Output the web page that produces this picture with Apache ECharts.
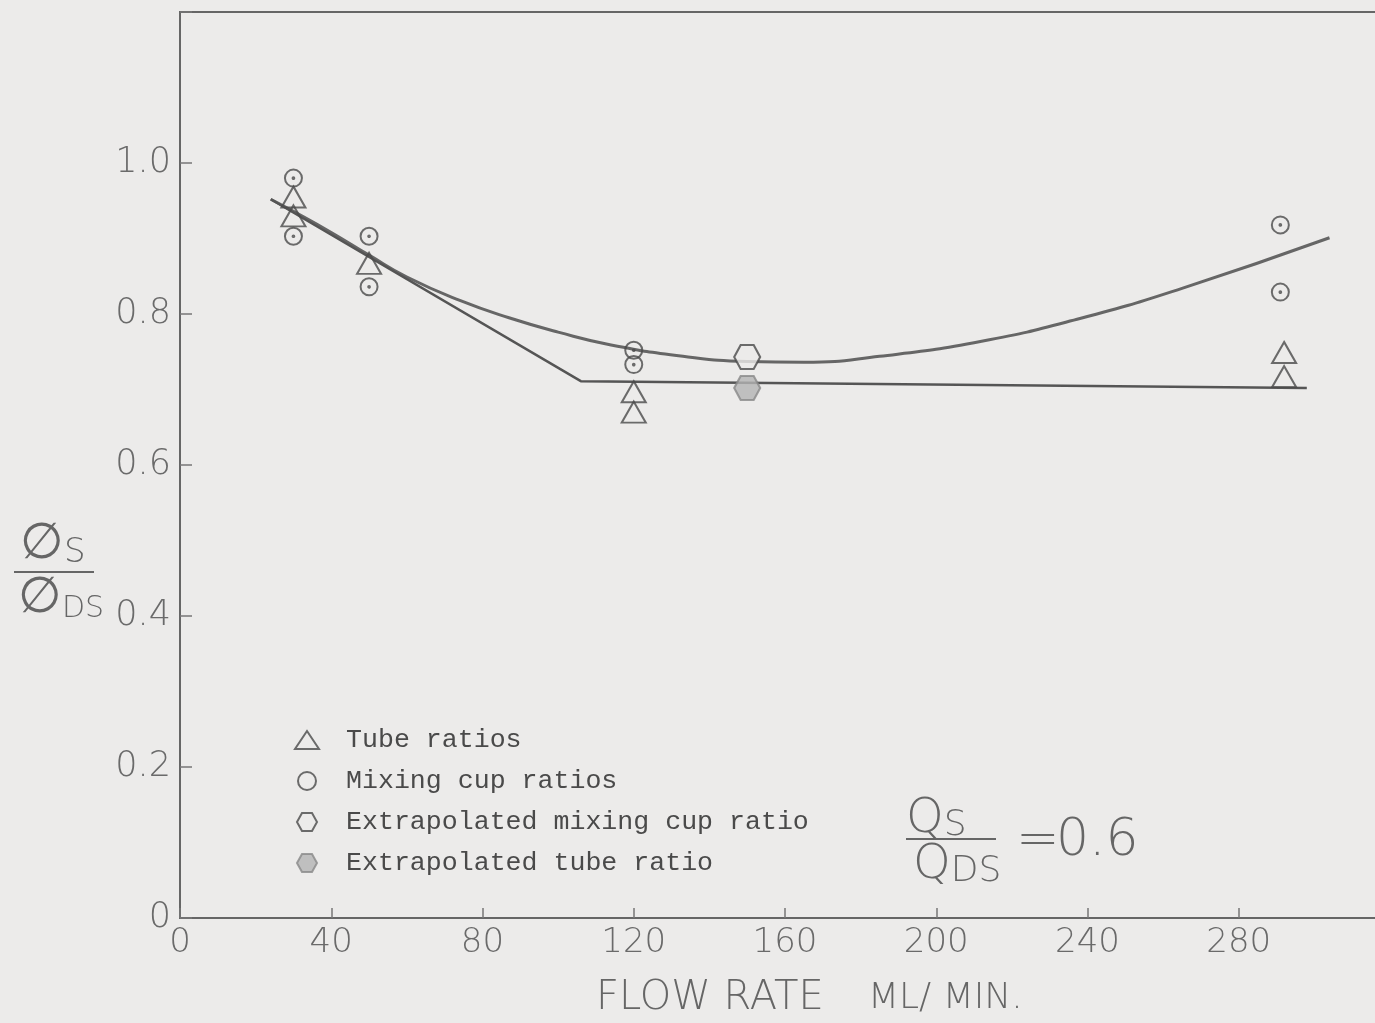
<!DOCTYPE html>
<html>
<head>
<meta charset="utf-8">
<title>Flow rate ratios</title>
<script src="https://cdn.jsdelivr.net/npm/echarts@6/dist/echarts.min.js"></script>
<style>
  html, body { margin: 0; padding: 0; background: #ecebea; }
  #main { width: 1375px; height: 1023px; }
</style>
</head>
<body>
<div id="main"></div>
<script>
// tube ratios (triangles)
var tubeX = [30, 30, 50, 120, 120, 292, 292];
var tubeY = [0.955, 0.93, 0.867, 0.697, 0.670, 0.749, 0.717];
// mixing cup ratios (circles)
var cupX = [30, 30, 50, 50, 120, 120, 291, 291];
var cupY = [0.98, 0.903, 0.903, 0.836, 0.752, 0.733, 0.918, 0.829];
// extrapolated points (hexagons)
var extCupX = [150], extCupY = [0.743];
var extTubeX = [150], extTubeY = [0.702];
// hand drawn fitted curve through mixing cup ratios
var curveX = [24, 30, 40, 50, 60, 74, 87, 100, 114, 133, 150, 165, 185, 212, 238, 265, 304];
var curveY = [0.952, 0.936, 0.908, 0.878, 0.849, 0.818, 0.795, 0.776, 0.759, 0.744, 0.737, 0.736, 0.744, 0.764, 0.794, 0.834, 0.901];
// broken line through tube ratios
var brokenX = [24, 106, 298];
var brokenY = [0.952, 0.711, 0.702];

var xTicks = [0, 40, 80, 120, 160, 200, 240, 280];
var yTicks = [0, 0.2, 0.4, 0.6, 0.8, 1.0];

function zip(a, b) {
  var out = [];
  for (var i = 0; i < a.length; i++) out.push([a[i], b[i]]);
  return out;
}

var ink = '#4a4a4a';
var paper = '#ecebea';
var hexPath = 'path://M0,10 L5,1 L15,1 L20,10 L15,19 L5,19 Z';
var dotCircle = 'path://M10,0 A10,10 0 1,1 9.99,0 Z M10,9 A1,1 0 1,1 9.99,9 Z';
var labelFont = { fontFamily: 'DejaVu Sans', fontWeight: 200, color: '#6a6a6a' };

function lightText(x, y, text, size) {
  return { type: 'text', left: x, top: y, style: { text: text, fontFamily: 'DejaVu Sans', fontWeight: 200, fontSize: size, fill: '#666' } };
}
function richText(x, y, big, small, bigSize, smallSize) {
  return {
    type: 'text', left: x, top: y,
    style: {
      text: '{a|' + big + '}{b|' + small + '}',
      rich: {
        a: { fontFamily: 'DejaVu Sans', fontWeight: 200, fontSize: bigSize, fill: '#666' },
        b: { fontFamily: 'DejaVu Sans', fontWeight: 200, fontSize: smallSize, fill: '#666', verticalAlign: 'bottom' }
      }
    }
  };
}

var chart = echarts.init(document.getElementById('main'));
var option = {
  backgroundColor: paper,
  animation: false,
  grid: {
    left: 180, right: -15, top: 12, bottom: 105,
    show: true, borderColor: '#666', borderWidth: 2,
    outerBoundsMode: 'none'
  },
  legend: {
    orient: 'vertical',
    left: 289, top: 720,
    itemWidth: 24, itemHeight: 18, itemGap: 11,
    textStyle: { fontFamily: 'Liberation Mono', fontSize: 26.6, color: '#4a4a4a', lineHeight: 30, padding: [0, 0, 0, 22] },
    data: [
      { name: 'Tube ratios', icon: 'triangle' },
      { name: 'Mixing cup ratios', icon: 'circle' },
      { name: 'Extrapolated mixing cup ratio', icon: hexPath },
      { name: 'Extrapolated tube ratio', icon: hexPath }
    ]
  },
  xAxis: {
    type: 'value', min: 0, max: 320, interval: 40,
    axisLine: { lineStyle: { color: '#666', width: 2 } },
    axisTick: { inside: true, length: 10, lineStyle: { color: '#777', width: 1.5 } },
    splitLine: { show: false },
    axisLabel: Object.assign({
      fontSize: 34, margin: 8, showMaxLabel: false,
      formatter: function (v) { return xTicks.indexOf(v) >= 0 ? String(v) : ''; }
    }, labelFont)
  },
  yAxis: {
    type: 'value', min: 0, max: 1.2, interval: 0.2,
    axisLine: { lineStyle: { color: '#666', width: 2 } },
    axisTick: { inside: true, length: 12, lineStyle: { color: '#777', width: 1.5 } },
    splitLine: { show: false },
    axisLabel: Object.assign({
      fontSize: 35, margin: 9,
      formatter: function (v) {
        var r = Math.round(v * 10) / 10;
        if (yTicks.indexOf(r) < 0) return '';
        return r === 0 ? '0' : r.toFixed(1);
      }
    }, labelFont)
  },
  series: [
    {
      name: 'fit curve', type: 'line', smooth: 0.5, symbol: 'none',
      lineStyle: { color: '#666', width: 3 },
      data: zip(curveX, curveY), z: 2
    },
    {
      name: 'fit broken', type: 'line', symbol: 'none',
      lineStyle: { color: '#555', width: 2.5 },
      data: zip(brokenX, brokenY), z: 2
    },
    {
      name: 'Tube ratios', type: 'scatter', symbol: 'triangle', symbolSize: [24, 21],
      itemStyle: { color: 'rgba(0,0,0,0)', borderColor: ink, borderWidth: 2 },
      data: zip(tubeX, tubeY), z: 3
    },
    {
      name: 'Mixing cup ratios', type: 'scatter', symbol: dotCircle, symbolSize: 17,
      itemStyle: { color: 'rgba(0,0,0,0)', borderColor: ink, borderWidth: 2 },
      data: zip(cupX, cupY), z: 3
    },
    {
      name: 'Extrapolated mixing cup ratio', type: 'scatter', symbol: hexPath, symbolSize: [26, 24],
      itemStyle: { color: paper, borderColor: ink, borderWidth: 2 },
      data: zip(extCupX, extCupY), z: 3
    },
    {
      name: 'Extrapolated tube ratio', type: 'scatter', symbol: hexPath, symbolSize: [26, 24],
      itemStyle: { color: '#b4b4b4', borderColor: '#888', borderWidth: 2 },
      data: zip(extTubeX, extTubeY), z: 3
    }
  ],
  graphic: [
    // y axis name: phi_S / phi_DS
    richText(20, 520, '\u2205', 'S', 50, 34),
    { type: 'line', shape: { x1: 14, y1: 572, x2: 94, y2: 572 }, style: { stroke: '#666', lineWidth: 2 } },
    richText(18, 574, '\u2205', 'DS', 50, 30),
    // x axis name
    lightText(596, 979, 'FLOW RATE', 40),
    lightText(868, 981, 'ML/ MIN.', 36),
    // Qs / QDS = 0.6
    richText(906, 796, 'Q', 'S', 48, 36),
    { type: 'line', shape: { x1: 906, y1: 839, x2: 996, y2: 839 }, style: { stroke: '#666', lineWidth: 2 } },
    richText(913, 842, 'Q', 'DS', 48, 36),
    lightText(1016, 815, '=', 52),
    lightText(1056, 815, '0.6', 52)
  ]
};
chart.setOption(option);
</script>
</body>
</html>
